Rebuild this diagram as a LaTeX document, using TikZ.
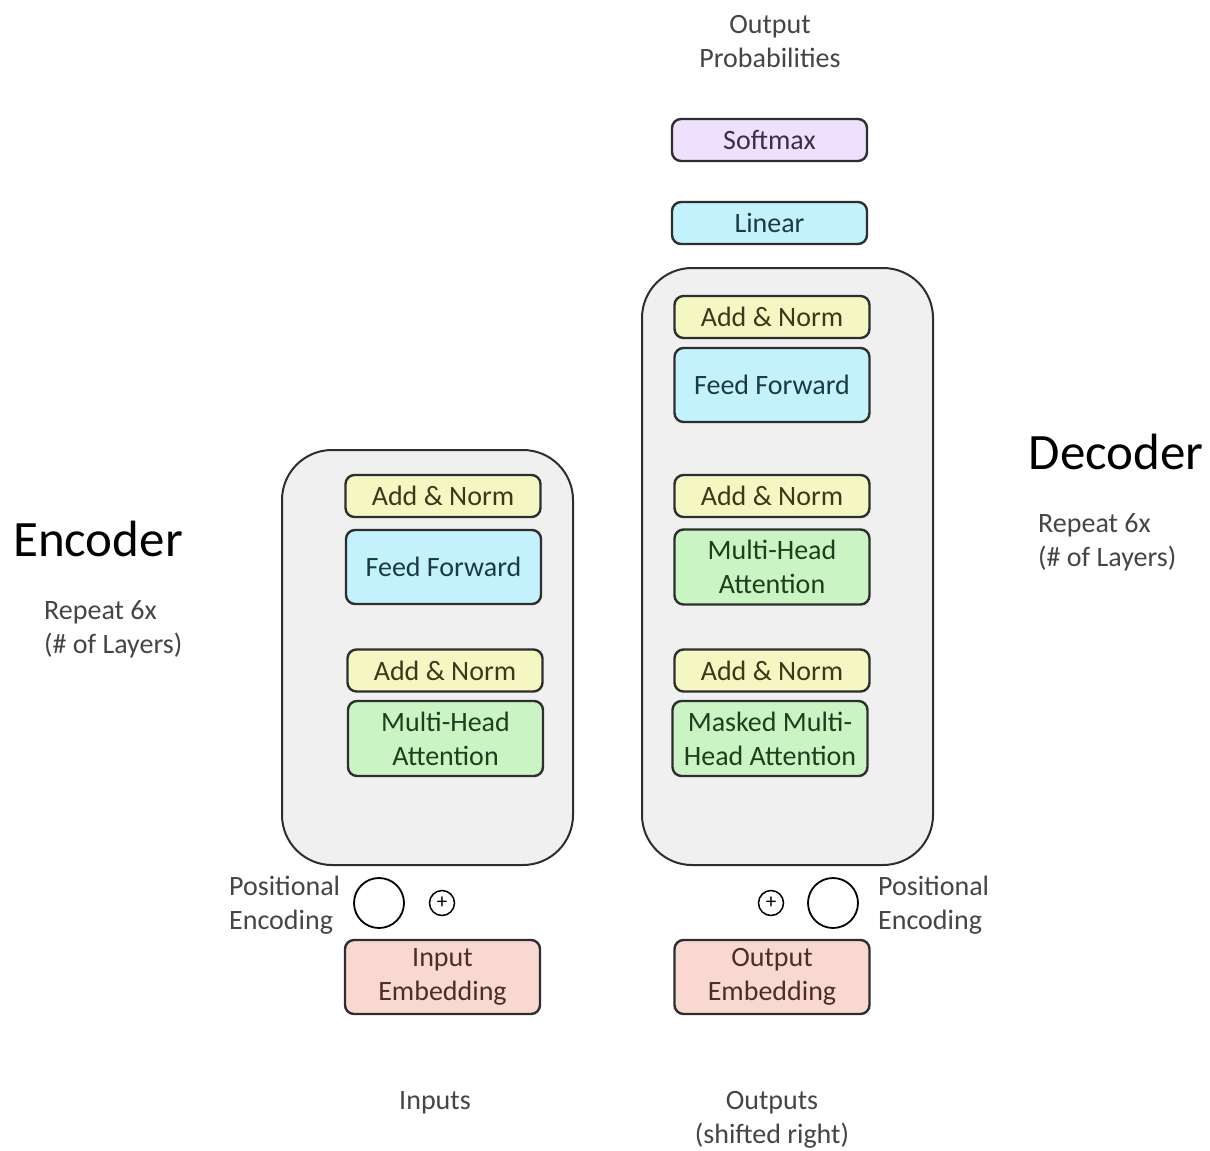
\documentclass[tikz,border=0pt]{standalone}
\usepackage{fontspec}
\setmainfont{Carlito}
\definecolor{stackfill}{HTML}{F0F0F0}
\definecolor{normfill}{HTML}{F4F7C2}
\definecolor{ffwfill}{HTML}{C3F1FC}
\definecolor{attfill}{HTML}{CBF4C4}
\definecolor{embfill}{HTML}{F9D8D1}
\definecolor{softfill}{HTML}{EFE0FD}
\definecolor{edgecol}{HTML}{2E2E2E}
\definecolor{labcol}{HTML}{454545}
\definecolor{normtxt}{HTML}{3A3A1A}
\definecolor{ffwtxt}{HTML}{1A3A48}
\definecolor{atttxt}{HTML}{1E3E1E}
\definecolor{embtxt}{HTML}{4A2E2A}
\definecolor{softtxt}{HTML}{3C2E4A}
\tikzset{
  x=1pt, y=-1pt,
  stack/.style={draw=edgecol, line width=2pt, fill=stackfill, rounded corners=50pt, inner sep=0pt},
  blk/.style={draw=edgecol, line width=2.4pt, rounded corners=9pt, minimum width=195pt, inner sep=0pt, align=center, font=\fontsize{28}{34}\selectfont},
  normbox/.style={blk, fill=normfill, text=normtxt, minimum height=42pt},
  ffwbox/.style={blk, fill=ffwfill, text=ffwtxt, minimum height=74pt},
  attbox/.style={blk, fill=attfill, text=atttxt, minimum height=75pt},
  embbox/.style={blk, fill=embfill, text=embtxt, minimum height=74pt},
  softbox/.style={blk, fill=softfill, text=softtxt, minimum height=42pt},
  linbox/.style={blk, fill=ffwfill, text=ffwtxt, minimum height=42pt},
  lab/.style={text=labcol, align=center, inner sep=0pt, font=\fontsize{28}{34}\selectfont},
  big/.style={text=black, inner sep=0pt, font=\fontsize{51}{55}\selectfont},
  pe/.style={circle, draw=black, line width=1.8pt, minimum size=50pt, inner sep=0pt},
  plus/.style={circle, draw=black, line width=1.5pt, minimum size=25pt, inner sep=0pt, font=\fontsize{21}{21}\selectfont},
}
\begin{document}
\begin{tikzpicture}
\useasboundingbox[fill=white] (0,0) rectangle (1210,1151);
% stacks
\node[stack, minimum width=291pt, minimum height=415pt] (encstack) at (427.5,657.5) {};
\node[stack, minimum width=291pt, minimum height=597pt] (decstack) at (787.5,566.5) {};
% encoder blocks
\node[normbox] (encan2) at (443,496) {Add \& Norm};
\node[ffwbox] (encff) at (443.5,567) {Feed Forward};
\node[normbox] (encan1) at (445,670.5) {Add \& Norm};
\node[attbox] (encmha) at (445.5,738.5) {Multi-Head\\Attention};
% decoder blocks
\node[softbox] (soft) at (769.5,140) {Softmax};
\node[linbox] (lin) at (769.5,223) {Linear};
\node[normbox] (decan3) at (772,317) {Add \& Norm};
\node[ffwbox] (decff) at (772,385) {Feed Forward};
\node[normbox] (decan2) at (772,496) {Add \& Norm};
\node[attbox] (decmha) at (772,567) {Multi-Head\\Attention};
\node[normbox] (decan1) at (772,670.5) {Add \& Norm};
\node[attbox] (decmmha) at (770,738.5) {Masked Multi-\\Head Attention};
% embeddings
\node[embbox] (inemb) at (442.5,977) {Input\\Embedding};
\node[embbox] (outemb) at (772,977) {Output\\Embedding};
% positional encodings
\node[pe] (encpe) at (379,903) {};
\node[plus] (encplus) at (442,903) {+};
\node[plus] (decplus) at (771,903) {+};
\node[pe] (decpe) at (833,903) {};
% labels
\node[lab, align=left, anchor=west] (encpelab) at (229,905) {Positional\\Encoding};
\node[lab, align=left, anchor=west] (decpelab) at (878,905) {Positional\\Encoding};
\node[lab] (inputs) at (435,1103) {Inputs};
\node[lab] (outputs) at (772,1120) {Outputs\\(shifted right)};
\node[lab] (outprob) at (770,42) {Output\\Probabilities};
\node[big] (enc) at (98,539) {Encoder};
\node[lab, align=left, anchor=west] (encrep) at (44,629) {Repeat 6x\\(\# of Layers)};
\node[big] (dec) at (1116,452) {Decoder};
\node[lab, align=left, anchor=west] (decrep) at (1038,542) {Repeat 6x\\(\# of Layers)};
\end{tikzpicture}
\end{document}
